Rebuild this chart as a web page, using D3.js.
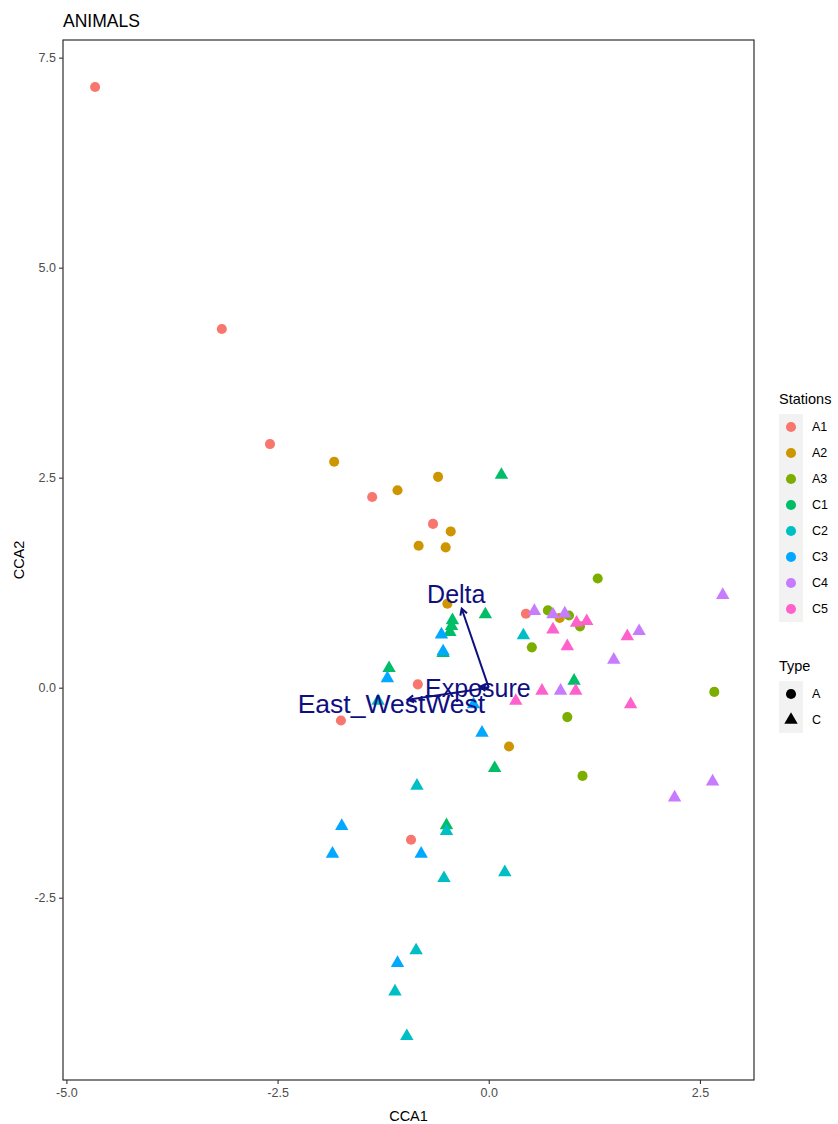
<!DOCTYPE html>
<html>
<head>
<meta charset="utf-8">
<script src="https://cdn.jsdelivr.net/npm/d3@7"></script>
<style>
  body { margin: 0; background: #fff; }
  svg { display: block; font-family: "Liberation Sans", Arial, sans-serif; }
</style>
</head>
<body>
<div id="chart"></div>
<script>
// Station order and colours (ggplot hue palette)
const stations = ["A1", "A2", "A3", "C1", "C2", "C3", "C4", "C5"];
const stationColors = ["#F8766D", "#CD9600", "#7CAE00", "#00BE67", "#00BFC4", "#00A9FF", "#C77CFF", "#FF61CC"];
const types = ["A", "C"];

// Site scores, one entry per sample
const siteStation = [
    "A1", "A1", "A1", "A1", "A1", "A1", "A1", "A1", "A1",
    "A2", "A2", "A2", "A2", "A2", "A2", "A2", "A2", "A2",
    "A3", "A3", "A3", "A3", "A3", "A3", "A3", "A3",
    "C1", "C1", "C1", "C1", "C1", "C1", "C1", "C1", "C1", "C1",
    "C2", "C2", "C2", "C2", "C2", "C2", "C2", "C2", "C2",
    "C3", "C3", "C3", "C3", "C3", "C3", "C3", "C3", "C3",
    "C4", "C4", "C4", "C4", "C4", "C4", "C4", "C4", "C4",
    "C5", "C5", "C5", "C5", "C5", "C5", "C5", "C5", "C5"
];
const siteCCA1 = [
    -4.66, -3.16, -2.59, -1.38, -0.66, 0.44, -0.84, -1.75, -0.92,
    -1.83, -1.08, -0.60, -0.45, -0.83, -0.51, -0.49, 0.84, 0.24,
    1.29, 0.70, 0.95, 1.08, 0.51, 0.93, 2.67, 1.11,
    0.15, -0.04, -0.43, -0.44, -0.46, -0.54, -1.18, 1.01, 0.07, -0.50,
    0.41, -1.31, -0.85, -0.50, 0.19, -0.53, -0.86, -1.11, -0.97,
    -0.56, -0.54, -1.20, -0.18, -0.08, -1.74, -1.85, -0.80, -1.08,
    0.54, 0.76, 0.90, 2.77, 1.78, 1.48, 0.85, 2.65, 2.20,
    0.76, 1.04, 1.16, 0.93, 1.64, 0.63, 1.03, 1.68, 0.32
];
const siteCCA2 = [
    7.15, 4.27, 2.90, 2.27, 1.95, 0.88, 0.04, -0.39, -1.81,
    2.69, 2.35, 2.51, 1.86, 1.69, 1.67, 1.00, 0.83, -0.70,
    1.30, 0.92, 0.86, 0.73, 0.48, -0.35, -0.05, -1.05,
    2.55, 0.89, 0.82, 0.75, 0.68, 0.43, 0.25, 0.10, -0.94, -1.62,
    0.64, -0.14, -1.15, -1.69, -2.18, -2.25, -3.11, -3.60, -4.13,
    0.65, 0.45, 0.13, -0.18, -0.52, -1.63, -1.96, -1.96, -3.26,
    0.93, 0.89, 0.90, 1.12, 0.69, 0.35, -0.02, -1.10, -1.29,
    0.71, 0.79, 0.81, 0.51, 0.63, -0.02, -0.02, -0.18, -0.14
];

// Environmental arrows (biplot scores)
const envNames = ["Delta", "East_WestWest", "Exposure"];
const envCCA1 = [-0.32, -0.96, -0.107];
const envCCA2 = [0.94, -0.143, 0.012];
const labelMult = 1.2;

// Axis ticks
const xTicks = [-5.0, -2.5, 0.0, 2.5];
const yTicks = [-2.5, 0.0, 2.5, 5.0, 7.5];

// Layout
const w = 838;
const h = 1124;
const padL = 63, padR = 754, padT = 40, padB = 1080;

const svg = d3.select("#chart")
    .append("svg")
    .attr("width", w)
    .attr("height", h);

const xScale = d3.scaleLinear()
    .domain([-5.04, 3.14])
    .range([padL, padR]);

const yScale = d3.scaleLinear()
    .domain([-4.67, 7.71])
    .range([padB, padT]);

const colorScale = d3.scaleOrdinal()
    .domain(stations)
    .range(stationColors);

const circleSym = d3.symbol().type(d3.symbolCircle).size(80);
const triSym = d3.symbol().type(d3.symbolTriangle).size(78);

function shapeFor(t) {
    return t === "A" ? circleSym() : triSym();
}

// Build site rows
const sites = siteStation.map((s, i) => ({
    station: s,
    type: s.charAt(0),
    x: siteCCA1[i],
    y: siteCCA2[i]
}));

// Panel
svg.append("rect")
    .attr("x", padL)
    .attr("y", padT)
    .attr("width", padR - padL)
    .attr("height", padB - padT)
    .attr("fill", "white");

// Points
svg.append("g")
    .selectAll("path")
    .data(sites)
    .enter()
    .append("path")
    .attr("transform", d => "translate(" + xScale(d.x) + "," + (yScale(d.y) + (d.type === "C" ? 1.5 : 0)) + ")")
    .attr("d", d => shapeFor(d.type))
    .attr("fill", d => colorScale(d.station));

// Arrows
const arrows = envNames.map((n, i) => ({ name: n, x: envCCA1[i], y: envCCA2[i] }));
const navy = "#0F0F80";

const arrowG = svg.append("g");
arrows.forEach(function(a) {
    const x0 = xScale(0), y0 = yScale(0);
    const x1 = xScale(a.x), y1 = yScale(a.y);
    arrowG.append("line")
        .attr("x1", x0).attr("y1", y0)
        .attr("x2", x1).attr("y2", y1)
        .attr("stroke", navy)
        .attr("stroke-width", 2);
    const ang = Math.atan2(y1 - y0, x1 - x0);
    const len = 7;
    const spread = Math.PI / 6;
    const p1 = [x1 - len * Math.cos(ang - spread), y1 - len * Math.sin(ang - spread)];
    const p2 = [x1 - len * Math.cos(ang + spread), y1 - len * Math.sin(ang + spread)];
    arrowG.append("path")
        .attr("d", "M" + p1 + "L" + x1 + "," + y1 + "L" + p2)
        .attr("fill", "none")
        .attr("stroke", navy)
        .attr("stroke-width", 2);
});

// Arrow labels
svg.append("g")
    .selectAll("text")
    .data(arrows)
    .enter()
    .append("text")
    .attr("x", d => xScale(d.x * labelMult))
    .attr("y", d => yScale(d.y * labelMult) + 1.5)
    .attr("text-anchor", "middle")
    .attr("dominant-baseline", "central")
    .attr("fill", navy)
    .style("font-size", d => d.name === "East_WestWest" ? "26.5px" : "25px")
    .text(d => d.name);

// Panel border
svg.append("rect")
    .attr("x", padL)
    .attr("y", padT)
    .attr("width", padR - padL)
    .attr("height", padB - padT)
    .attr("fill", "none")
    .attr("stroke", "#1a1a1a")
    .attr("stroke-width", 1.1);

// Axes
const tickFmt = d => d.toFixed(1);

const xAxis = d3.axisBottom(xScale)
    .tickValues(xTicks)
    .tickFormat(tickFmt)
    .tickSize(4)
    .tickPadding(4);

const yAxis = d3.axisLeft(yScale)
    .tickValues(yTicks)
    .tickFormat(tickFmt)
    .tickSize(4)
    .tickPadding(3);

const gx = svg.append("g")
    .attr("transform", "translate(0," + padB + ")")
    .call(xAxis);

const gy = svg.append("g")
    .attr("transform", "translate(" + padL + ",0)")
    .call(yAxis);

[gx, gy].forEach(function(g) {
    g.select(".domain").remove();
    g.selectAll(".tick line").attr("stroke", "#333333").attr("stroke-width", 1.1);
    g.selectAll(".tick text")
        .attr("fill", "#4D4D4D")
        .style("font-size", "12.5px")
        .style("font-family", "Liberation Sans, Arial, sans-serif");
});

// Axis titles
svg.append("text")
    .attr("x", (padL + padR) / 2)
    .attr("y", 1121)
    .attr("text-anchor", "middle")
    .style("font-size", "14.5px")
    .text("CCA1");

svg.append("text")
    .attr("transform", "translate(24," + ((padT + padB) / 2) + ") rotate(-90)")
    .attr("text-anchor", "middle")
    .style("font-size", "14.5px")
    .text("CCA2");

// Title
svg.append("text")
    .attr("x", padL)
    .attr("y", 27)
    .style("font-size", "17.5px")
    .text("ANIMALS");

// Legend: Stations
const legX = 779;
const keyW = 24, keyH = 26;

svg.append("text")
    .attr("x", legX)
    .attr("y", 404)
    .style("font-size", "14.5px")
    .text("Stations");

svg.append("rect")
    .attr("x", legX)
    .attr("y", 414)
    .attr("width", keyW)
    .attr("height", keyH * stations.length)
    .attr("fill", "#F2F2F2");

const stKeys = svg.append("g")
    .selectAll("g")
    .data(stations)
    .enter()
    .append("g")
    .attr("transform", (d, i) => "translate(" + (legX + keyW / 2) + "," + (414 + keyH * i + keyH / 2) + ")");

stKeys.append("path")
    .attr("d", circleSym())
    .attr("fill", d => colorScale(d));

stKeys.append("text")
    .attr("x", 21)
    .attr("dominant-baseline", "central")
    .style("font-size", "12.5px")
    .text(d => d);

// Legend: Type
svg.append("text")
    .attr("x", legX)
    .attr("y", 671)
    .style("font-size", "14.5px")
    .text("Type");

svg.append("rect")
    .attr("x", legX)
    .attr("y", 681)
    .attr("width", keyW)
    .attr("height", keyH * types.length)
    .attr("fill", "#F2F2F2");

const tyKeys = svg.append("g")
    .selectAll("g")
    .data(types)
    .enter()
    .append("g")
    .attr("transform", (d, i) => "translate(" + (legX + keyW / 2) + "," + (681 + keyH * i + keyH / 2) + ")");

tyKeys.append("path")
    .attr("d", d => shapeFor(d))
    .attr("fill", "black");

tyKeys.append("text")
    .attr("x", 21)
    .attr("dominant-baseline", "central")
    .style("font-size", "12.5px")
    .text(d => d);
</script>
</body>
</html>
